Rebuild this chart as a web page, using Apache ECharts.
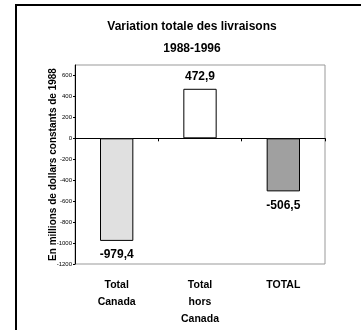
<!DOCTYPE html>
<html>
<head>
<meta charset="utf-8">
<script src="https://cdn.jsdelivr.net/npm/echarts@6/dist/echarts.min.js"></script>
<style>
  html, body { margin: 0; padding: 0; background: #fff; }
  #chart { width: 361px; height: 330px; }
</style>
</head>
<body>
<div id="chart"></div>
<script>
// Shipments change 1988-1996, millions of constant 1988 dollars
const categories = ['Total\nCanada', 'Total\nhors\nCanada', 'TOTAL'];
const values = [-979.4, 472.9, -506.5];
const barColors = ['#e0e0e0', '#ffffff', '#a0a0a0'];
const yTicks = [-1200, -1000, -800, -600, -400, -200, 0, 200, 400, 600];

const FONT = '"Liberation Sans", Arial, sans-serif';

const chart = echarts.init(document.getElementById('chart'), null, { renderer: 'canvas' });

const fmt = v => v.toFixed(1).replace('.', ',');

chart.setOption({
  animation: false,
  backgroundColor: '#fff',
  title: {
    text: 'Variation totale des livraisons\n1988-1996',
    left: 187,
    textAlign: 'center',
    top: 11,
    textStyle: {
      fontFamily: FONT,
      fontWeight: 'bold',
      fontSize: 12,
      lineHeight: 22,
      color: '#000'
    }
  },
  graphic: [{
    type: 'rect',
    shape: { x: 16, y: 5, width: 400, height: 400 },
    style: { fill: 'none', stroke: '#000', lineWidth: 2 },
    silent: true
  }],
  grid: {
    left: 75, right: 36, top: 65, bottom: 66,
    show: true, borderColor: '#999', borderWidth: 1, backgroundColor: 'transparent'
  },
  xAxis: {
    type: 'category',
    data: categories,
    axisLine: { onZero: true, lineStyle: { color: '#000', width: 1 } },
    axisTick: { show: true, alignWithLabel: false, length: 3, lineStyle: { color: '#000' } },
    axisLabel: {
      interval: 0,
      margin: 13,
      fontFamily: FONT,
      fontWeight: 'bold',
      fontSize: 10.5,
      lineHeight: 17,
      color: '#000',
      verticalAlign: 'top'
    },
    position: 'bottom'
  },
  yAxis: {
    type: 'value',
    min: -1200,
    max: 700,
    interval: 200,
    name: 'En millions de dollars constants de 1988',
    nameLocation: 'middle',
    nameGap: 17,
    nameMoveOverlap: false,
    nameTextStyle: {
      fontFamily: FONT,
      fontWeight: 'bold',
      fontSize: 10,
      color: '#000'
    },
    splitLine: { show: false },
    axisLine: { show: true, lineStyle: { color: '#000', width: 1 } },
    axisTick: { show: true, length: 2, customValues: yTicks, lineStyle: { color: '#000' } },
    axisLabel: {
      customValues: yTicks,
      margin: 3,
      formatter: v => String(v),
      fontFamily: FONT,
      fontSize: 6,
      color: '#000'
    }
  },
  series: [{
    type: 'bar',
    barWidth: '40%',
    data: values.map((v, i) => ({
      value: v,
      itemStyle: { color: barColors[i], borderColor: '#000', borderWidth: 1 },
      label: { position: v < 0 ? 'bottom' : 'top', distance: v < 0 ? 8 : 6 }
    })),
    label: {
      show: true,
      formatter: p => fmt(p.value),
      fontFamily: FONT,
      fontWeight: 'bold',
      fontSize: 12,
      color: '#000'
    }
  }]
});
</script>
</body>
</html>
